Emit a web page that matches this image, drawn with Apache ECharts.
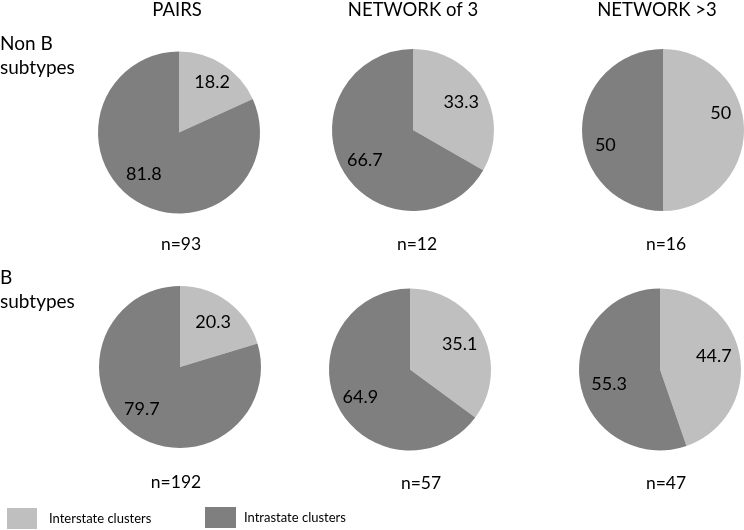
<!DOCTYPE html>
<html>
<head>
<meta charset="utf-8">
<script src="https://cdn.jsdelivr.net/npm/echarts@6/dist/echarts.min.js"></script>
<style>
html,body{margin:0;padding:0;background:#fff;}
#chart{width:744px;height:530px;}
</style>
</head>
<body>
<div id="chart"></div>
<script>
// ---- data ----
const columns = ['PAIRS', 'NETWORK of 3', 'NETWORK >3'];
const rows = ['Non B\nsubtypes', 'B\nsubtypes'];
const categories = ['Interstate clusters', 'Intrastate clusters'];
const interstate = [[18.2, 33.3, 50], [20.3, 35.1, 44.7]];
const intrastate = [[81.8, 66.7, 50], [79.7, 64.9, 55.3]];
const nLabels = [['n=93', 'n=12', 'n=16'], ['n=192', 'n=57', 'n=47']];

// ---- layout ----
const colors = ['#BFBFBF', '#7F7F7F'];
const FONT = 'Lato, "Open Sans", sans-serif';
const pieCenters = [[[179, 132.5], [413, 130], [663, 130]], [[180, 367], [410, 369.5], [660, 369.5]]];
const R = 81;
const nPos = [[[181, 244], [417, 244], [666, 244]], [[176, 482], [421, 483], [666, 483]]];
const headerX = [177, 413, 657];
const rowLabelY = [56, 290];
// per-pie label nudges [interstate, intrastate]
const labelNudge = [[[[3, -4], [-5, -5]], [[0, 0], [0, 2]], [[2, -17], [-2, 15]]],
                    [[[0, 0], [-5, -3]], [[0, 0], [0, 3]], [[-1, -4], [4, 5]]]];

const series = [];
for (let r = 0; r < 2; r++) {
  for (let c = 0; c < 3; c++) {
    const vals = [interstate[r][c], intrastate[r][c]];
    series.push({
      type: 'pie',
      center: pieCenters[r][c],
      radius: [0, R],
      startAngle: 90,
      clockwise: true,
      silent: true,
      label: {show: false},
      labelLine: {show: false},
      itemStyle: {borderWidth: 0},
      emphasis: {disabled: true},
      data: categories.map((name, i) => ({name: name, value: vals[i]}))
    });
    // label ring (transparent) so labels sit at ~0.65 of radius
    series.push({
      type: 'pie',
      center: pieCenters[r][c],
      radius: [R * 0.3, R],
      startAngle: 90,
      clockwise: true,
      silent: true,
      itemStyle: {color: 'rgba(0,0,0,0)', borderWidth: 0},
      label: {
        show: true, position: 'inside', color: '#000',
        fontFamily: FONT, fontSize: 18,
        formatter: p => String(p.value)
      },
      labelLine: {show: false},
      emphasis: {disabled: true},
      data: categories.map((name, i) => ({name: name, value: vals[i], label: {offset: labelNudge[r][c][i]}}))
    });
  }
}

const graphics = [];
columns.forEach((t, c) => graphics.push({
  type: 'text', x: headerX[c], y: 10,
  style: {text: t, textAlign: 'center', textVerticalAlign: 'middle', font: '18.5px ' + FONT, fill: '#000'}
}));
rows.forEach((t, r) => graphics.push({
  type: 'text', x: 0, y: rowLabelY[r],
  style: {text: t, textAlign: 'left', textVerticalAlign: 'middle', font: '19px ' + FONT, fill: '#000', lineHeight: 24}
}));
for (let r = 0; r < 2; r++) for (let c = 0; c < 3; c++) {
  graphics.push({
    type: 'text', x: nPos[r][c][0], y: nPos[r][c][1],
    style: {text: nLabels[r][c], textAlign: 'center', textVerticalAlign: 'middle', font: '17.5px ' + FONT, fill: '#000'}
  });
}

const chart = echarts.init(document.getElementById('chart'));
chart.setOption({
  animation: false,
  color: colors,
  legend: [
    {data: [categories[0]], left: 7, top: 508, padding: 0, itemWidth: 30, itemHeight: 21, selectedMode: false,
     icon: 'rect', textStyle: {fontFamily: FONT, fontSize: 13, color: '#000', padding: [0, 0, 0, 7]}},
    {data: [categories[1]], left: 205, top: 507, padding: 0, itemWidth: 31, itemHeight: 21, selectedMode: false,
     icon: 'rect', textStyle: {fontFamily: FONT, fontSize: 13, color: '#000', padding: [0, 0, 0, 3]}}
  ],
  series: series,
  graphic: graphics
});
</script>
</body>
</html>
